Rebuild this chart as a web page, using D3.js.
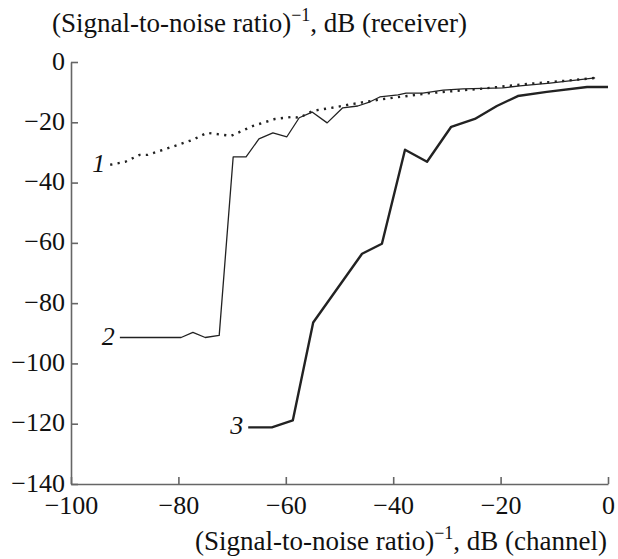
<!DOCTYPE html>
<html>
  <head>
    <meta charset="utf-8" />
    <title>SNR receiver vs channel</title>
    <script src="https://d3js.org/d3.v7.min.js"></script>
    <style>
      body { margin: 0; background: #fff; }
      svg text { font-family: "Liberation Serif", "DejaVu Serif", serif; fill: #111; }
    </style>
  </head>
  <body>
    <svg width="618" height="559"></svg>

    <script>
      // Curve 1 (dotted)
      const curve1 = [
        [-92.7, -34.1], [-89.9, -33.1], [-87.2, -30.8], [-85.7, -30.8], [-80.1, -27.5],
        [-77.3, -25.8], [-74.7, -23.5], [-70.2, -24.5], [-66.1, -21.2], [-62.0, -18.9],
        [-58.8, -18.2], [-57.5, -18.5], [-54.9, -16.2], [-50.5, -14.9], [-47.5, -13.9],
        [-41.9, -12.3], [-33.1, -10.3], [-23.8, -8.9], [-15.1, -7.3], [-8.4, -6.3], [-2.4, -5.3]
      ];
      // Curve 2 (thin)
      const curve2 = [
        [-90.9, -91.4], [-79.5, -91.4], [-77.3, -89.7], [-75.0, -91.4], [-72.4, -90.7],
        [-69.8, -31.5], [-67.4, -31.5], [-65.0, -25.5], [-62.4, -23.5], [-59.8, -24.8],
        [-57.5, -18.5], [-55.1, -16.6], [-52.3, -20.2], [-49.4, -15.2], [-46.6, -14.6],
        [-44.3, -13.2], [-42.5, -11.6], [-39.1, -10.9], [-37.6, -10.3], [-34.5, -10.3],
        [-30.7, -9.3], [-27.0, -8.9], [-19.6, -8.6], [-16.4, -7.9], [-10.8, -7.0], [-2.4, -5.3]
      ];
      // Curve 3 (thick)
      const curve3 = [
        [-67.0, -121.2], [-62.6, -121.2], [-58.7, -118.9], [-54.9, -86.4], [-45.8, -63.6],
        [-42.1, -60.3], [-37.8, -29.1], [-33.7, -33.1], [-29.2, -21.5], [-24.8, -18.9],
        [-20.7, -14.6], [-16.8, -11.3], [-11.4, -9.9], [-3.9, -8.3], [0, -8.3]
      ];
      const xTicks = [-100, -80, -60, -40, -20, 0];
      const yTicks = [0, -20, -40, -60, -80, -100, -120, -140];

      const svg = d3.select("svg");
      const x = d3.scaleLinear().domain([-100, 0]).range([71, 608]);
      const y = d3.scaleLinear().domain([-140, 0]).range([484, 62]);
      const fmt = d => d3.format("d")(d).replace("-", "\u2212");
      const fs = 26;

      // axes
      const gx = svg.append("g")
        .attr("transform", "translate(0,484)")
        .call(d3.axisBottom(x).tickValues(xTicks).tickSizeInner(-7).tickSizeOuter(0).tickPadding(12).tickFormat(fmt));
      const gy = svg.append("g")
        .attr("transform", "translate(71,0)")
        .call(d3.axisLeft(y).tickValues(yTicks).tickSizeInner(-7).tickSizeOuter(0).tickPadding(6).tickFormat(fmt));

      [gx, gy].forEach(g => {
        g.attr("font-family", null).attr("font-size", null);
        g.selectAll("path, line").attr("stroke", "#666").attr("stroke-width", 1.6);
        g.selectAll("text").attr("font-size", fs).attr("fill", "#111");
      });
      gy.selectAll("text").attr("dy", "0.27em");

      const line = d3.line().x(d => x(d[0])).y(d => y(d[1]));

      svg.append("path").datum(curve1)
        .attr("d", line).attr("fill", "none").attr("stroke", "#222")
        .attr("stroke-width", 2.4).attr("stroke-dasharray", "2.2,5.3");
      svg.append("path").datum(curve2)
        .attr("d", line).attr("fill", "none").attr("stroke", "#222")
        .attr("stroke-width", 1.3).attr("stroke-linejoin", "round");
      svg.append("path").datum(curve3)
        .attr("d", line).attr("fill", "none").attr("stroke", "#222")
        .attr("stroke-width", 2.4).attr("stroke-linejoin", "round");

      // curve labels
      [[curve1, "1"], [curve2, "2"], [curve3, "3"]].forEach(([c, t]) => {
        svg.append("text")
          .attr("x", x(c[0][0]) - 5)
          .attr("y", y(c[0][1]) + 7)
          .attr("text-anchor", "end")
          .attr("font-size", fs)
          .attr("font-style", "italic")
          .text(t);
      });

      // axis titles
      const tfs = 27;
      const yTitle = svg.append("text").attr("x", 52).attr("y", 32).attr("font-size", tfs);
      yTitle.append("tspan").text("(Signal-to-noise ratio)");
      yTitle.append("tspan").attr("font-size", 18).attr("dy", -11).text("\u22121");
      yTitle.append("tspan").attr("dy", 11).text(", dB (receiver)");

      const xTitle = svg.append("text").attr("x", 607).attr("y", 550)
        .attr("text-anchor", "end").attr("font-size", tfs);
      xTitle.append("tspan").text("(Signal-to-noise ratio)");
      xTitle.append("tspan").attr("font-size", 18).attr("dy", -11).text("\u22121");
      xTitle.append("tspan").attr("dy", 11).text(", dB (channel)");
    </script>
  </body>
</html>
